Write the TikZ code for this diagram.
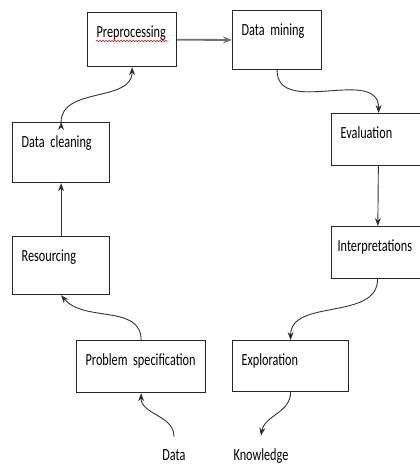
\documentclass[tikz,border=0pt]{standalone}
\usepackage{fontspec}
\newfontfamily\boxfont[FakeStretch=0.72]{Carlito}
\newcommand\stagefont{\boxfont\fontsize{17}{20}\selectfont\spaceskip=2.4pt\relax}
\usetikzlibrary{arrows.meta, decorations.pathmorphing}
\tikzset{
  ->,
  >={Stealth[length=8pt,width=6pt]},
  x=1pt, y=-1pt,
  every node/.style={font=\stagefont},
  stage/.style={draw, line width=1.2pt, draw=black!85, anchor=north west, inner xsep=9pt,
    inner ysep=0pt, text height=25pt, align=left},
  link/.style={line width=0.9pt, draw=black!80},
}

\begin{document}
\begin{tikzpicture}
      \useasboundingbox (0,0) rectangle (420,464);

      \node[stage,text width=71pt,text depth=29pt] (pre)    at (87,12)  {Preprocessing};
      \node[stage,text width=71pt,text depth=34pt] (mine)   at (232,10) {Data mining};
      \node[stage,text width=76pt,text depth=27pt] (eval)   at (331,113) {Evaluation};
      \node[stage,text width=80pt,text depth=27pt,inner xsep=6pt] (interp) at (331,226) {Interpretations};
      \node[stage,text width=79pt,text depth=35pt] (clean)  at (12,122) {Data cleaning};
      \node[stage,text width=79pt,text depth=33pt] (res)    at (12,236) {Resourcing};
      \node[stage,text width=111pt,text depth=27pt] (prob)  at (76,340) {Problem specification};
      \node[stage,text width=98pt,text depth=26pt] (expl)   at (232,340) {Exploration};
      \node[anchor=base] (data) at (174,460) {Data};
      \node[anchor=base] (know) at (261,460) {Knowledge};

      % spell-check squiggle
      \draw[-, red, line width=0.5pt, decorate,
            decoration={snake, amplitude=0.8pt, segment length=3pt}]
            (96,41) -- (168,41);

      \draw[line width=1.8pt, draw=black!55, -{Stealth[length=9pt,width=7pt,fill=black]}] (pre) -- (mine);
      \draw[link] (mine.south)   edge[out=-90,in=90,looseness=1.1]  (eval.north)
                  (eval)         edge                 (interp)
                  (interp.south) edge[out=-90,in=90]  (expl.north)
                  (expl.south)   edge[out=-90,in=80]  ([yshift=9pt]know.north)
                  ([yshift=9pt]data.north) edge[out=90,in=-90] (prob.south)
                  (prob.north)   edge[out=90,in=-50]  (res.south)
                  (res)          edge                 (clean)
                  (clean.north)  edge[out=90,in=-90]  (pre.south);
    \end{tikzpicture}
\end{document}
